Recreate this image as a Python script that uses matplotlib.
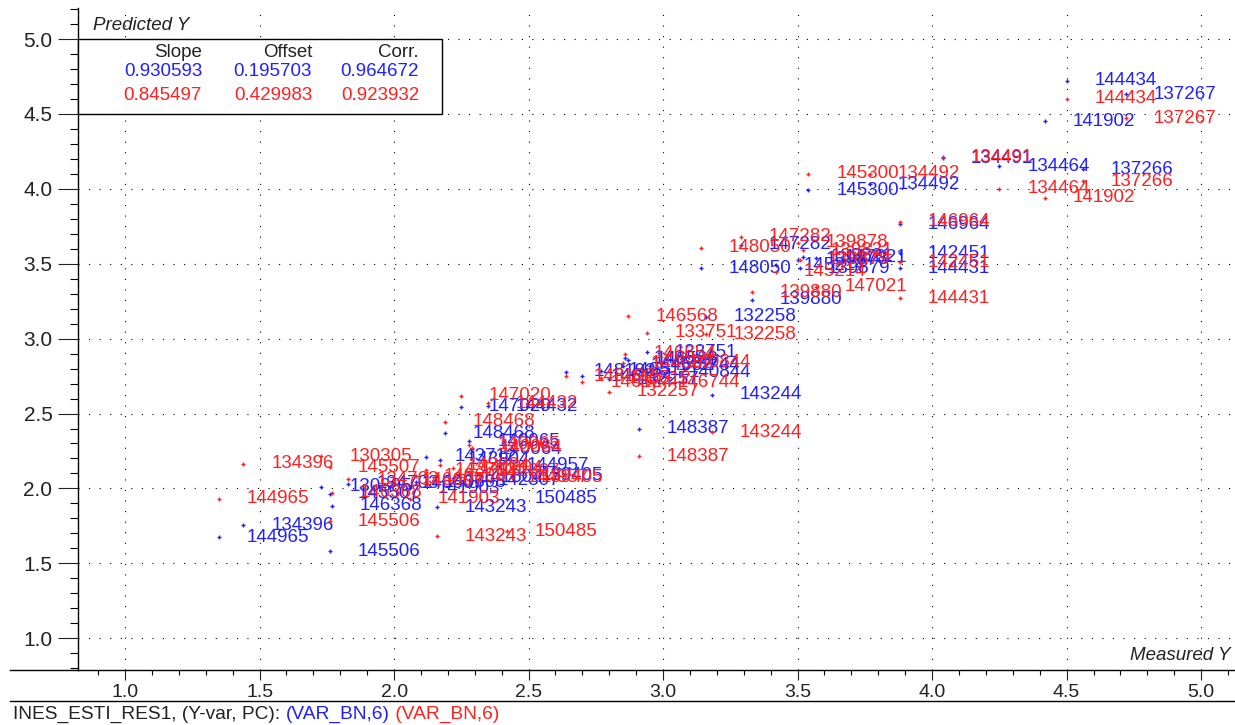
import matplotlib.pyplot as plt
from matplotlib.lines import Line2D
from matplotlib.patches import Rectangle
from matplotlib.ticker import MultipleLocator, FormatStrFormatter

plt.rcParams["font.family"] = ["Liberation Sans", "DejaVu Sans"]
plt.rcParams["font.size"] = 13.5

# sample ids with measured Y and the two predicted Y series
SAMPLES = [
    "144434", "137267", "141902", "134464", "137266", "134491", "145300",
    "134492", "146964", "142451", "144431", "148050", "147282", "139878",
    "139879", "145214", "147021", "139880", "139821", "146568", "132258",
    "133751", "143244", "148387", "148192", "146124", "132257", "146744",
    "140844", "144682", "146654", "140512", "147020", "144432", "148468",
    "140065", "140064", "143712", "143904", "141804", "142307", "144957",
    "146607", "140698", "145507", "130305", "134703", "146368", "141903",
    "143243", "150485", "139405", "144965", "134396", "145506",
]
MEASURED = [
    4.50, 4.72, 4.42, 4.25, 4.56, 4.04, 3.54,
    3.77, 3.88, 3.88, 3.88, 3.14, 3.29, 3.50,
    3.51, 3.42, 3.57, 3.33, 3.52, 2.87, 3.16,
    2.94, 3.18, 2.91, 2.64, 2.70, 2.80, 2.95,
    2.99, 2.85, 2.86, 2.77, 2.25, 2.35, 2.19,
    2.28, 2.29, 2.12, 2.17, 2.22, 2.28, 2.39,
    2.00, 2.08, 1.76, 1.73, 1.83, 1.77, 2.06,
    2.16, 2.42, 2.44, 1.35, 1.44, 1.76,
]
PRED_BLUE = [
    4.72, 4.63, 4.45, 4.15, 4.13, 4.205, 3.99,
    4.03, 3.765, 3.57, 3.47, 3.47, 3.625, 3.525,
    3.47, 3.49, 3.54, 3.26, 3.545, 2.86, 3.145,
    2.91, 2.625, 2.40, 2.78, 2.75, 2.73, 2.82,
    2.775, 2.82, 2.87, 2.785, 2.545, 2.55, 2.37,
    2.315, 2.26, 2.21, 2.19, 2.07, 2.055, 2.15,
    2.035, 2.04, 1.965, 2.01, 2.03, 1.885, 2.00,
    1.875, 1.93, 2.085, 1.675, 1.755, 1.58,
]
PRED_RED = [
    4.60, 4.47, 3.94, 4.00, 4.05, 4.21, 4.10,
    4.10, 3.78, 3.51, 3.27, 3.605, 3.68, 3.64,
    3.525, 3.445, 3.345, 3.31, 3.59, 3.15, 3.03,
    3.04, 2.375, 2.215, 2.75, 2.71, 2.645, 2.71,
    2.84, 2.835, 2.90, 2.735, 2.62, 2.57, 2.445,
    2.29, 2.27, 2.12, 2.155, 2.135, 2.11, 2.07,
    2.055, 2.08, 2.14, 2.215, 2.06, 1.97, 1.93,
    1.68, 1.715, 2.07, 1.93, 2.165, 1.78,
]

FIT_HEADERS = ["Slope", "Offset", "Corr."]
FIT_BLUE = ["0.930593", "0.195703", "0.964672"]
FIT_RED = ["0.845497", "0.429983", "0.923932"]

BLUE = "#2020ff"
RED = "#ff2020"

W, H = 1235, 725
fig = plt.figure(figsize=(W / 100, H / 100), dpi=100)
ax = fig.add_axes([78 / W, (H - 670) / H, 1 - 78 / W, (670 - 8) / H])
ax.set_xlim(0.825, 5.126)
ax.set_ylim(0.788, 5.207)

for side in ("top", "right"):
    ax.spines[side].set_visible(False)
for side in ("left", "bottom"):
    ax.spines[side].set_linewidth(1.0)

ax.xaxis.set_major_locator(MultipleLocator(0.5))
ax.xaxis.set_minor_locator(MultipleLocator(0.1))
ax.yaxis.set_major_locator(MultipleLocator(0.5))
ax.yaxis.set_minor_locator(MultipleLocator(0.1))
ax.xaxis.set_major_formatter(FormatStrFormatter("%.1f"))
ax.yaxis.set_major_formatter(FormatStrFormatter("%.1f"))
ax.tick_params(axis="y", which="major", length=14.4, width=0.8, pad=4,
               labelsize=15, colors="#222222")
ax.tick_params(axis="y", which="minor", length=5.8, width=0.8)
ax.tick_params(axis="x", which="major", length=7, width=0.8, pad=3,
               labelsize=14, colors="#222222")
ax.tick_params(axis="x", which="minor", length=3.6, width=0.8)

ax.grid(which="major", color="black", linestyle=(0, (1, 8.5)), linewidth=0.8)
ax.set_axisbelow(True)

# points and their sample labels, blue series first so red sits on top
for preds, color in ((PRED_BLUE, BLUE), (PRED_RED, RED)):
    ax.plot(MEASURED, preds, "+", color=color, ms=3.5, mew=1.0, ls="none", zorder=3)
    for name, xv, yv in zip(SAMPLES, MEASURED, preds):
        ax.annotate(name, (xv, yv), xytext=(20, 0), textcoords="offset points",
                    ha="left", va="center", color=color, zorder=3)

# fit statistics box in the top-left corner
ax.add_patch(Rectangle((0.825, 4.5), 2.178 - 0.825, 0.5, facecolor="white",
                       edgecolor="black", linewidth=1.0, zorder=5, clip_on=False))
col_x = [1.286, 1.695, 2.093]
for cx, head, vb, vr in zip(col_x, FIT_HEADERS, FIT_BLUE, FIT_RED):
    ax.text(cx, 4.913, head, ha="right", va="center", color="#222222", zorder=6)
    ax.text(cx, 4.78, vb, ha="right", va="center", color=BLUE, zorder=6)
    ax.text(cx, 4.626, vr, ha="right", va="center", color=RED, zorder=6)

fig.text(93 / W, 1 - 25 / H, "Predicted Y", style="italic", va="center", color="#222222")
fig.text(1230 / W, 1 - 656 / H, "Measured Y", style="italic", ha="right", va="center",
         color="#222222")

# x axis runs on past the y axis, and a rule separates the caption
fig.add_artist(Line2D([10 / W, 78 / W], [1 - 670 / H] * 2, color="black", lw=1.0))
fig.add_artist(Line2D([10 / W, 1.0], [1 - 701 / H] * 2, color="black", lw=1.0))

cap = fig.text(13 / W, 1 - 714 / H, "INES_ESTI_RES1, (Y-var, PC): ", va="center",
               color="#222222", fontsize=13.75)
cap_b = ax.annotate("(VAR_BN,6)", xy=(1, 0), xycoords=cap, va="bottom", color=BLUE,
                    fontsize=13.75, annotation_clip=False)
ax.annotate(" (VAR_BN,6)", xy=(1, 0), xycoords=cap_b, va="bottom", color=RED,
            fontsize=13.75, annotation_clip=False)

fig.savefig("out.png", dpi=100)
